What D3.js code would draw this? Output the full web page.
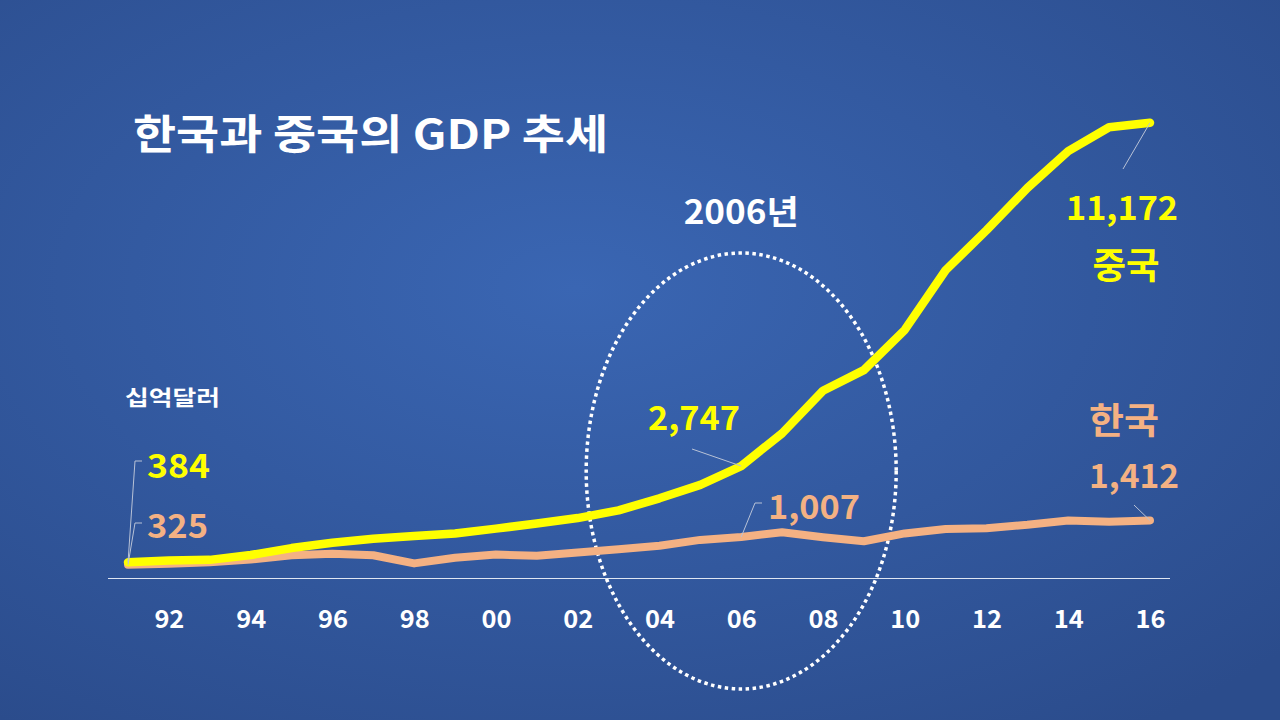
<!DOCTYPE html>
<html>
<head>
<meta charset="utf-8">
<script src="https://cdn.jsdelivr.net/npm/d3@7"></script>
<style>
  html, body { margin: 0; padding: 0; background: #2e5294; }
  svg { display: block; }
  text { font-family: "Noto Sans CJK KR", "Noto Sans", sans-serif; font-weight: bold; }
</style>
</head>
<body>
<svg id="chart" width="1280" height="720"></svg>
<script>
// data (billion USD)
var years = [1991, 1992, 1993, 1994, 1995, 1996, 1997, 1998, 1999, 2000, 2001, 2002, 2003,
             2004, 2005, 2006, 2007, 2008, 2009, 2010, 2011, 2012, 2013, 2014, 2015, 2016];
var china = [384, 427, 445, 564, 734, 863, 961, 1029, 1094, 1211, 1339, 1471, 1660,
             1955, 2286, 2747, 3550, 4594, 5102, 6087, 7552, 8532, 9570, 10475, 11061, 11172];
var korea = [325, 350, 386, 455, 556, 598, 558, 358, 497, 576, 547, 627, 703,
             793, 935, 1007, 1123, 1002, 902, 1094, 1202, 1223, 1305, 1411, 1383, 1412];
var tickYears = [1992, 1994, 1996, 1998, 2000, 2002, 2004, 2006, 2008, 2010, 2012, 2014, 2016];
var tickLabels = ["92", "94", "96", "98", "00", "02", "04", "06", "08", "10", "12", "14", "16"];

var YELLOW = "#ffff00";
var PEACH = "#f4b183";

var svg = d3.select("#chart");

// background gradient
var defs = svg.append("defs");
var grad = defs.append("radialGradient")
    .attr("id", "bg")
    .attr("cx", "45%").attr("cy", "40%").attr("r", "75%");
grad.append("stop").attr("offset", "0%").attr("stop-color", "#3a66b3");
grad.append("stop").attr("offset", "100%").attr("stop-color", "#2b4c8c");
svg.append("rect")
    .attr("width", 1280).attr("height", 720)
    .attr("fill", "url(#bg)");

var x = d3.scaleLinear().domain([1991, 2016]).range([128, 1150]);
var y = d3.scaleLinear().domain([0, 12000]).range([578, 89]);

// text helper, stretched to the width seen in the slide font
function label(tx, ty, anchor, color, txt, size, len) {
    svg.append("text")
        .attr("x", tx).attr("y", ty)
        .attr("text-anchor", anchor)
        .attr("textLength", len)
        .attr("lengthAdjust", "spacingAndGlyphs")
        .style("font-size", size + "px")
        .style("fill", color)
        .text(txt);
}

// title
label(133, 149, "start", "white", "한국과 중국의 GDP 추세", 41, 475);
label(125, 405, "start", "white", "십억달러", 21, 95);

// x axis
var axis = svg.append("g")
    .attr("transform", "translate(0," + y(0) + ")")
    .call(d3.axisBottom(x)
        .tickValues(tickYears)
        .tickFormat(function(d, i) { return tickLabels[i]; })
        .tickSize(0)
        .tickPadding(32));
axis.select(".domain")
    .attr("d", "M108,0.5H1170")
    .style("stroke", "#dfe6f2")
    .style("stroke-width", 1.2);
axis.selectAll("text")
    .attr("textLength", 30)
    .attr("lengthAdjust", "spacingAndGlyphs")
    .style("font-size", "25px")
    .style("fill", "white")
    .style("font-family", "\"Noto Sans CJK KR\", sans-serif")
    .style("font-weight", "bold");

// dotted ellipse around 2006
svg.append("ellipse")
    .attr("cx", x(2006)).attr("cy", 471)
    .attr("rx", 155).attr("ry", 218)
    .style("fill", "none")
    .style("stroke", "white")
    .style("stroke-width", 3.5)
    .style("stroke-dasharray", "3.5, 3.5");

label(x(2006), 224, "middle", "white", "2006년", 33, 115);

// lines
var line = d3.line()
    .x(function(d, i) { return x(years[i]); })
    .y(function(d) { return y(d); });

svg.append("path")
    .datum(korea)
    .attr("d", line)
    .style("fill", "none")
    .style("stroke", PEACH)
    .style("stroke-width", 8)
    .style("stroke-linejoin", "round")
    .style("stroke-linecap", "round");

svg.append("path")
    .datum(china)
    .attr("d", line)
    .style("fill", "none")
    .style("stroke", YELLOW)
    .style("stroke-width", 8.5)
    .style("stroke-linejoin", "round")
    .style("stroke-linecap", "round");

// leader lines from data points to labels
function leader(year, value, pts) {
    var p = [[x(year), y(value)]].concat(pts);
    svg.append("path")
        .attr("d", d3.line()(p))
        .style("fill", "none")
        .style("stroke", "#b8c2d6")
        .style("stroke-width", 1);
}
var iFirst = 0, i06 = years.indexOf(2006), iLast = years.length - 1;
leader(years[iFirst], china[iFirst], [[135, 461], [142, 461]]);
leader(years[iFirst], korea[iFirst], [[135, 523], [142, 523]]);
leader(years[i06], china[i06], [[692, 449]]);
leader(years[i06], korea[i06], [[755, 503], [762, 503]]);
leader(years[iLast], china[iLast], [[1123, 169]]);
leader(years[iLast], korea[iLast], [[1134, 505]]);

// value labels
var fmt = d3.format(",");
label(147, 478, "start", YELLOW, fmt(china[iFirst]), 33, 63);
label(147, 538, "start", PEACH, fmt(korea[iFirst]), 33, 61);
label(694, 430, "middle", YELLOW, fmt(china[i06]), 33, 92);
label(768, 519, "start", PEACH, fmt(korea[i06]), 33, 92);
label(1122, 220, "middle", YELLOW, fmt(china[iLast]), 33, 112);
label(1126, 279, "middle", YELLOW, "중국", 36, 67);
label(1124, 434, "middle", PEACH, "한국", 36, 70);
label(1134, 488, "middle", PEACH, fmt(korea[iLast]), 33, 90);
</script>
</body>
</html>
